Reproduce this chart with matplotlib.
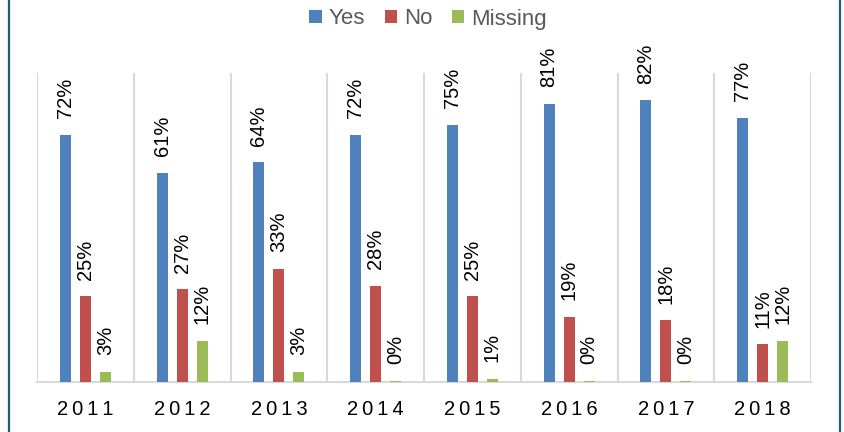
import numpy as np
import matplotlib
matplotlib.use("Agg")
import matplotlib.pyplot as plt
from matplotlib.lines import Line2D

plt.rcParams["font.family"] = ["Liberation Sans", "DejaVu Sans"]

# ---- data (percent of respondents) ----
years = ["2011", "2012", "2013", "2014", "2015", "2016", "2017", "2018"]
yes = [72, 61, 64, 72, 75, 81, 82, 77]
no = [25, 27, 33, 28, 25, 19, 18, 11]
missing = [3, 12, 3, 0.3, 1, 0.3, 0.3, 12]   # "0%" bars show a hairline sliver
series_names = ["Yes", "No", "Missing"]

colors = ["#4F81BD", "#C0504D", "#9BBB59"]
grid_c = "#D9D9D9"

fig = plt.figure(figsize=(8.44, 4.32), dpi=100)
ax = fig.add_axes([37 / 844, 50 / 432, 774 / 844, 309 / 432])

x = np.arange(len(years))
step, width = 0.207, 0.115
for k, (vals, name) in enumerate(zip([yes, no, missing], series_names)):
    pos = x + (k - 1) * step
    bars = ax.bar(pos, vals, width, color=colors[k], label=name, zorder=3)
    for b, v in zip(bars, vals):
        ax.annotate(f"{round(v)}%", (b.get_x() + b.get_width() / 2, b.get_height()),
                    xytext=(0, 12), textcoords="offset points",
                    rotation=90, ha="center", va="bottom",
                    fontsize=14.5, color="black")

ax.set_xlim(-0.5, len(years) - 0.5)
ax.set_ylim(0, 90)
ax.set_yticks([])
for s in ["left", "right", "top"]:
    ax.spines[s].set_visible(False)
ax.spines["bottom"].set_color(grid_c)
ax.spines["bottom"].set_linewidth(1.5)
for b in np.arange(-0.5, len(years)):
    ax.axvline(b, color=grid_c, lw=1.5, zorder=1)

ax.set_xticks(x)
ax.set_xticklabels(["\u2009".join(y) for y in years], fontsize=14.5, color="#000000")
ax.tick_params(axis="x", length=0, pad=13)

fig.legend(loc="center", bbox_to_anchor=(428 / 844, 1 - 19 / 432), ncol=3,
           frameon=False, fontsize=16, handlelength=0.55, handleheight=0.55,
           handletextpad=0.3, columnspacing=0.9, labelcolor="#595959",
           borderaxespad=0, borderpad=0)

# teal frame edges on the left and right
for fx in (8.5 / 844, 839.5 / 844):
    fig.add_artist(Line2D([fx, fx], [0, 1], transform=fig.transFigure,
                          color="#23606F", lw=1.6))

fig.savefig("out.png", dpi=100)
